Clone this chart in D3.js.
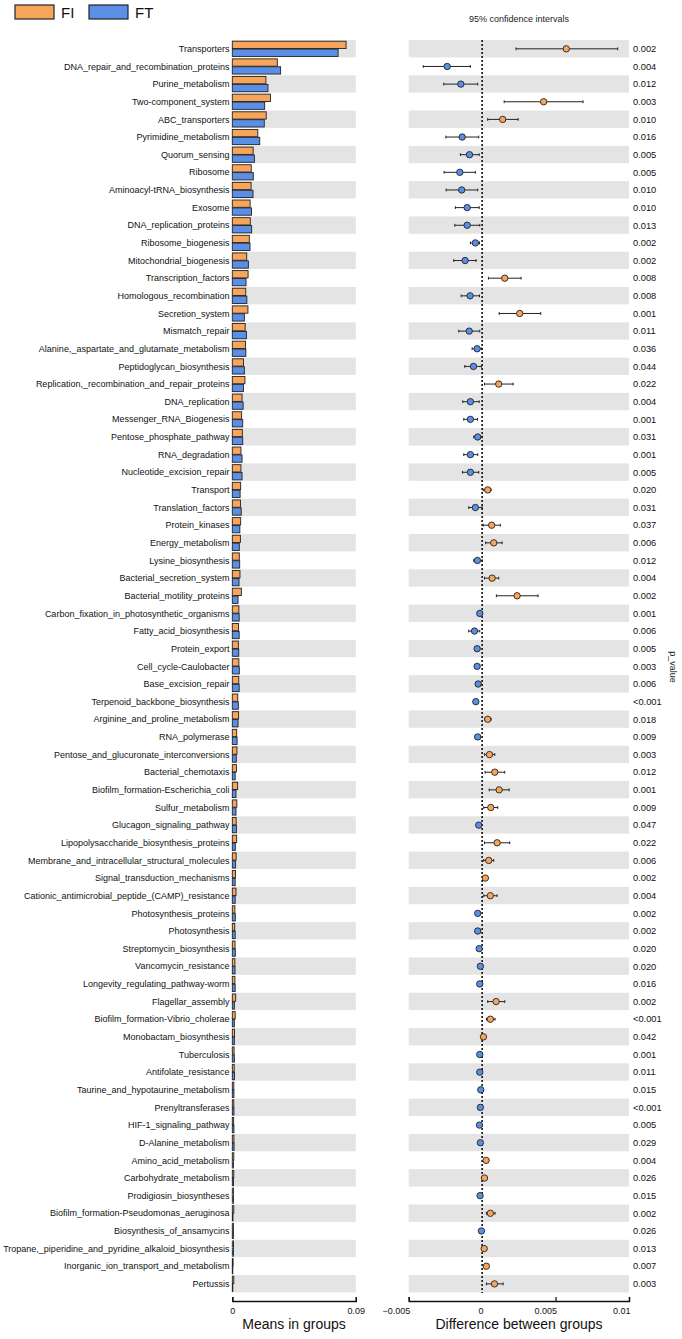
<!DOCTYPE html>
<html><head><meta charset="utf-8">
<script src="https://cdn.jsdelivr.net/npm/d3@7/dist/d3.min.js"></script>
<style>body{margin:0;background:#fff}svg{display:block;font-family:"Liberation Sans",Arial,sans-serif}</style>
</head><body><svg id="c" width="682" height="1339"></svg>
<script>
const categories = ["Transporters","DNA_repair_and_recombination_proteins","Purine_metabolism","Two-component_system","ABC_transporters","Pyrimidine_metabolism","Quorum_sensing","Ribosome","Aminoacyl-tRNA_biosynthesis","Exosome","DNA_replication_proteins","Ribosome_biogenesis","Mitochondrial_biogenesis","Transcription_factors","Homologous_recombination","Secretion_system","Mismatch_repair","Alanine,_aspartate_and_glutamate_metabolism","Peptidoglycan_biosynthesis","Replication,_recombination_and_repair_proteins","DNA_replication","Messenger_RNA_Biogenesis","Pentose_phosphate_pathway","RNA_degradation","Nucleotide_excision_repair","Transport","Translation_factors","Protein_kinases","Energy_metabolism","Lysine_biosynthesis","Bacterial_secretion_system","Bacterial_motility_proteins","Carbon_fixation_in_photosynthetic_organisms","Fatty_acid_biosynthesis","Protein_export","Cell_cycle-Caulobacter","Base_excision_repair","Terpenoid_backbone_biosynthesis","Arginine_and_proline_metabolism","RNA_polymerase","Pentose_and_glucuronate_interconversions","Bacterial_chemotaxis","Biofilm_formation-Escherichia_coli","Sulfur_metabolism","Glucagon_signaling_pathway","Lipopolysaccharide_biosynthesis_proteins","Membrane_and_intracellular_structural_molecules","Signal_transduction_mechanisms","Cationic_antimicrobial_peptide_(CAMP)_resistance","Photosynthesis_proteins","Photosynthesis","Streptomycin_biosynthesis","Vancomycin_resistance","Longevity_regulating_pathway-worm","Flagellar_assembly","Biofilm_formation-Vibrio_cholerae","Monobactam_biosynthesis","Tuberculosis","Antifolate_resistance","Taurine_and_hypotaurine_metabolism","Prenyltransferases","HIF-1_signaling_pathway","D-Alanine_metabolism","Amino_acid_metabolism","Carbohydrate_metabolism","Prodigiosin_biosyntheses","Biofilm_formation-Pseudomonas_aeruginosa","Biosynthesis_of_ansamycins","Tropane,_piperidine_and_pyridine_alkaloid_biosynthesis","Inorganic_ion_transport_and_metabolism","Pertussis"];
const meanFI = [0.0829,0.0328,0.0245,0.0278,0.0247,0.0186,0.0152,0.0138,0.0137,0.0130,0.0131,0.0124,0.0105,0.0115,0.0098,0.0114,0.0094,0.0096,0.0082,0.0092,0.0071,0.0068,0.0073,0.0063,0.0063,0.0061,0.0060,0.0061,0.0059,0.0051,0.0056,0.0066,0.0048,0.0045,0.0044,0.0048,0.0047,0.0040,0.0046,0.0032,0.0034,0.0030,0.0039,0.0033,0.0028,0.0032,0.0028,0.0023,0.0027,0.0019,0.0018,0.0020,0.0019,0.0019,0.0025,0.0021,0.0016,0.0013,0.0014,0.0011,0.0011,0.0010,0.0012,0.0011,0.0011,0.0008,0.0011,0.0008,0.0009,0.0006,0.0011];
const meanFT = [0.0771,0.0352,0.0260,0.0236,0.0233,0.0200,0.0161,0.0153,0.0151,0.0140,0.0141,0.0129,0.0117,0.0100,0.0106,0.0088,0.0103,0.0099,0.0088,0.0081,0.0079,0.0076,0.0076,0.0071,0.0071,0.0057,0.0065,0.0055,0.0051,0.0054,0.0049,0.0042,0.0050,0.0050,0.0047,0.0051,0.0050,0.0044,0.0042,0.0035,0.0029,0.0021,0.0027,0.0027,0.0030,0.0022,0.0024,0.0021,0.0021,0.0022,0.0021,0.0022,0.0020,0.0021,0.0015,0.0015,0.0015,0.0015,0.0016,0.0012,0.0012,0.0012,0.0013,0.0008,0.0009,0.0009,0.0005,0.0008,0.0008,0.0003,0.0003];
const diffs = [0.00573,-0.00238,-0.00145,0.00419,0.00140,-0.00136,-0.00086,-0.00152,-0.00139,-0.00102,-0.00102,-0.00046,-0.00116,0.00154,-0.00082,0.00256,-0.00088,-0.00034,-0.00059,0.00113,-0.00080,-0.00080,-0.00030,-0.00080,-0.00080,0.00038,-0.00046,0.00065,0.00079,-0.00032,0.00068,0.00238,-0.00016,-0.00052,-0.00034,-0.00034,-0.00027,-0.00043,0.00038,-0.00030,0.00050,0.00086,0.00116,0.00059,-0.00023,0.00102,0.00045,0.00022,0.00056,-0.00030,-0.00030,-0.00020,-0.00012,-0.00016,0.00095,0.00056,0.00009,-0.00016,-0.00016,-0.00009,-0.00012,-0.00018,-0.00012,0.00027,0.00016,-0.00014,0.00056,-0.00005,0.00014,0.00029,0.00084];
const ciLow = [0.00231,-0.00401,-0.00261,0.00150,0.00038,-0.00247,-0.00148,-0.00259,-0.00245,-0.00182,-0.00186,-0.00080,-0.00193,0.00043,-0.00143,0.00116,-0.00159,-0.00068,-0.00118,0.00016,-0.00132,-0.00125,-0.00057,-0.00125,-0.00134,0.00007,-0.00091,0.00007,0.00024,-0.00057,0.00016,0.00097,-0.00030,-0.00091,-0.00052,-0.00050,-0.00045,-0.00057,0.00016,-0.00048,0.00016,0.00020,0.00048,0.00011,-0.00038,0.00016,0.00011,0.00007,0.00011,-0.00044,-0.00044,-0.00032,-0.00020,-0.00024,0.00038,0.00029,0.00000,-0.00024,-0.00024,-0.00016,-0.00020,-0.00026,-0.00020,0.00016,0.00006,-0.00022,0.00029,-0.00010,0.00006,0.00018,0.00029];
const ciHigh = [0.00923,-0.00080,-0.00030,0.00687,0.00245,-0.00023,-0.00020,-0.00046,-0.00030,-0.00020,-0.00016,-0.00018,-0.00041,0.00265,-0.00018,0.00399,-0.00016,-0.00003,-0.00005,0.00211,-0.00020,-0.00032,0.00000,-0.00030,-0.00023,0.00061,0.00000,0.00124,0.00136,0.00000,0.00113,0.00381,-0.00003,-0.00016,-0.00016,-0.00018,-0.00008,-0.00029,0.00061,-0.00012,0.00086,0.00154,0.00184,0.00106,-0.00008,0.00188,0.00079,0.00038,0.00102,-0.00016,-0.00016,-0.00008,-0.00004,-0.00008,0.00154,0.00088,0.00018,-0.00008,-0.00008,-0.00002,-0.00004,-0.00010,-0.00004,0.00038,0.00026,-0.00006,0.00088,0.00000,0.00022,0.00038,0.00143];
const pValues = ["0.002","0.004","0.012","0.003","0.010","0.016","0.005","0.005","0.010","0.010","0.013","0.002","0.002","0.008","0.008","0.001","0.011","0.036","0.044","0.022","0.004","0.001","0.031","0.001","0.005","0.020","0.031","0.037","0.006","0.012","0.004","0.002","0.001","0.006","0.005","0.003","0.006","<0.001","0.018","0.009","0.003","0.012","0.001","0.009","0.047","0.022","0.006","0.002","0.004","0.002","0.002","0.020","0.020","0.016","0.002","<0.001","0.042","0.001","0.011","0.015","<0.001","0.005","0.029","0.004","0.026","0.015","0.002","0.026","0.013","0.007","0.003"];
const groups = ["FI","FT"];
const meanTicks = [0, 0.09];
const diffTicks = [-0.005, 0, 0.005, 0.01];

const colFI = "#F8A55C", colFT = "#5B8FE6", grey = "#E4E4E4";
const svg = d3.select("#c");
const y = d3.scaleBand().domain(categories).range([40, 1292.7]).padding(0);
const xM = d3.scaleLinear().domain([0, 0.09]).range([232.3, 355.8]);
const xD = d3.scaleLinear().domain([-0.005, 0.01]).range([408.7, 629]);
const bw = y.bandwidth();

// background bands
const rows = categories.map((c,i)=>({c,i,fi:meanFI[i],ft:meanFT[i],d:diffs[i],lo:ciLow[i],hi:ciHigh[i],p:pValues[i]}));
const bands = rows.filter(r=>r.i%2===0);
svg.append("g").selectAll("rect").data(bands).join("rect")
  .attr("x", xM(0)).attr("width", xM(0.09)-xM(0)).attr("y", d=>y(d.c)).attr("height", bw-0.3).attr("fill", grey);
svg.append("g").selectAll("rect").data(bands).join("rect")
  .attr("x", xD(-0.005)).attr("width", xD(0.01)-xD(-0.005)).attr("y", d=>y(d.c)).attr("height", bw-0.3).attr("fill", grey);

// labels
svg.append("g").selectAll("text").data(rows).join("text")
  .attr("x", 229.5).attr("y", d=>y(d.c)+bw/2).attr("dy","0.35em").attr("text-anchor","end")
  .attr("font-size", 9).attr("fill","#111").text(d=>d.c);

// bars
const bh = 7.3;
svg.append("g").selectAll("rect").data(rows).join("rect")
  .attr("x", xM(0)).attr("y", d=>y(d.c)+bw/2-bh-0.3).attr("height", bh)
  .attr("width", d=>Math.max(0.5, xM(d.fi)-xM(0))).attr("fill", colFI).attr("stroke","#222").attr("stroke-width",0.9);
svg.append("g").selectAll("rect").data(rows).join("rect")
  .attr("x", xM(0)).attr("y", d=>y(d.c)+bw/2+0.3).attr("height", bh)
  .attr("width", d=>Math.max(0.5, xM(d.ft)-xM(0))).attr("fill", colFT).attr("stroke","#222").attr("stroke-width",0.9);

// zero dotted line
svg.append("line").attr("x1", xD(0)).attr("x2", xD(0)).attr("y1", 40).attr("y2", 1293)
  .attr("stroke","#111").attr("stroke-width",1.6).attr("stroke-dasharray","2,2");

// error bars
const eb = svg.append("g");
eb.selectAll("line.h").data(rows).join("line").attr("class","h")
  .attr("x1", d=>xD(d.lo)).attr("x2", d=>xD(d.hi)).attr("y1", d=>y(d.c)+bw/2).attr("y2", d=>y(d.c)+bw/2)
  .attr("stroke","#222").attr("stroke-width",1);
eb.selectAll("line.l").data(rows).join("line").attr("class","l")
  .attr("x1", d=>xD(d.lo)).attr("x2", d=>xD(d.lo)).attr("y1", d=>y(d.c)+bw/2-1.4).attr("y2", d=>y(d.c)+bw/2+1.4)
  .attr("stroke","#222").attr("stroke-width",1);
eb.selectAll("line.r").data(rows).join("line").attr("class","r")
  .attr("x1", d=>xD(d.hi)).attr("x2", d=>xD(d.hi)).attr("y1", d=>y(d.c)+bw/2-1.4).attr("y2", d=>y(d.c)+bw/2+1.4)
  .attr("stroke","#222").attr("stroke-width",1);
eb.selectAll("circle").data(rows).join("circle")
  .attr("cx", d=>xD(d.d)).attr("cy", d=>y(d.c)+bw/2).attr("r", 3.2)
  .attr("fill", d=>d.d>=0?colFI:colFT).attr("stroke","#222").attr("stroke-width",0.9);

// p values
svg.append("g").selectAll("text").data(rows).join("text")
  .attr("x", 633).attr("y", d=>y(d.c)+bw/2).attr("dy","0.35em")
  .attr("font-size", 9.3).attr("fill","#111").text(d=>d.p);
svg.append("text").attr("transform","translate(670,667) rotate(90)").attr("text-anchor","middle")
  .attr("font-size",9).attr("fill","#222").text("p_value");

// axes
const axY = 1301;
const gm = svg.append("g").attr("transform",`translate(0,${axY})`)
  .call(d3.axisBottom(xM).tickValues(meanTicks).tickSizeInner(-4).tickSizeOuter(-4).tickFormat(d=>d===0?"0":"0.09"));
gm.selectAll("text").attr("y",7).attr("font-size",9).attr("fill","#111").attr("font-family","Liberation Sans, Arial, sans-serif");
const gd = svg.append("g").attr("transform",`translate(0,${axY})`)
  .call(d3.axisBottom(xD).tickValues(diffTicks).tickSizeInner(-4).tickSizeOuter(-4).tickFormat(d=>d===0?"0":d3.format("")(+d.toFixed(3))));
gd.selectAll("text").attr("y",7).attr("text-anchor","end").attr("x",1).attr("font-size",9).attr("fill","#111").attr("font-family","Liberation Sans, Arial, sans-serif");
gd.selectAll(".tick").filter(d=>d===0).select("line").remove();
svg.selectAll(".domain").attr("stroke","#111").attr("stroke-width",1.4);
svg.selectAll(".tick line").attr("stroke","#111").attr("stroke-width",1.2);

svg.append("text").attr("x",294).attr("y",1329).attr("text-anchor","middle").attr("font-size",14).attr("fill","#111").text("Means in groups");
svg.append("text").attr("x",519).attr("y",1329).attr("text-anchor","middle").attr("font-size",14).attr("fill","#111").text("Difference between groups");
svg.append("text").attr("x",519).attr("y",22).attr("text-anchor","middle").attr("font-size",9).attr("fill","#222").text("95% confidence intervals");

// legend
const lg = svg.append("g").selectAll("g").data(groups).join("g").attr("transform",(d,i)=>`translate(${15+i*74},5)`);
lg.append("rect").attr("width",39).attr("height",14).attr("fill",(d,i)=>i===0?colFI:colFT).attr("stroke","#222").attr("stroke-width",1.2);
lg.append("text").attr("x",46).attr("y",13).attr("font-size",15).attr("fill","#111").text(d=>d);
</script></body></html>
